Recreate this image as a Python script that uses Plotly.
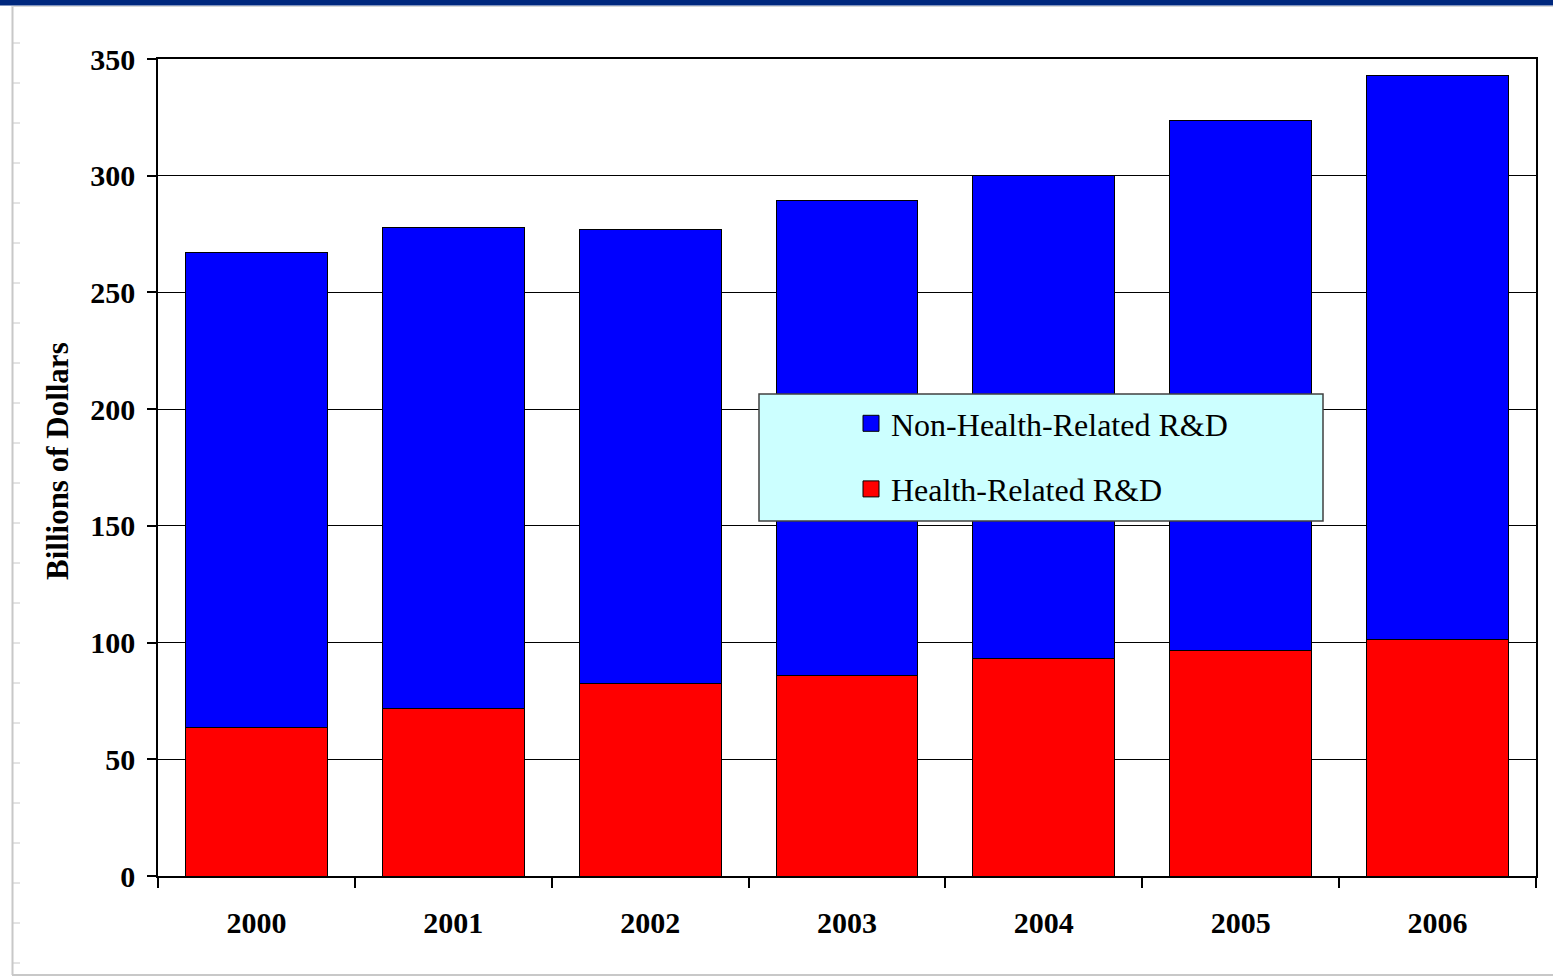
import plotly.graph_objects as go

# R&D spending, billions of dollars
years = ["2000", "2001", "2002", "2003", "2004", "2005", "2006"]
health = [63.8, 71.6, 82.3, 86.1, 93.0, 96.4, 101.5]
non_health = [203.5, 206.4, 194.5, 203.1, 207.3, 227.1, 241.3]

y_ticks = [0, 50, 100, 150, 200, 250, 300, 350]

W, H = 1553, 977
L, R, T, B = 158, 17, 59, 101
PW, PH = W - L - R, H - T - B

def px(x):
    return (x - L) / PW

def py(y):
    return (H - B - y) / PH

serif = "Liberation Serif, Times New Roman, serif"

fig = go.Figure()
fig.add_trace(go.Bar(
    x=years, y=health, name="Health-Related R&D",
    marker=dict(color="#FF0000", line=dict(color="#000000", width=1)),
    showlegend=False,
))
fig.add_trace(go.Bar(
    x=years, y=non_health, name="Non-Health-Related R&D",
    marker=dict(color="#0000FF", line=dict(color="#000000", width=1)),
    showlegend=False,
))

# legend entries (square swatches like the original)
for name, col, grp in [("Non-Health-Related R&D", "#0000FF", "a"),
                       ("Health-Related R&D", "#FF0000", "b")]:
    fig.add_trace(go.Scatter(
        x=[None], y=[None], mode="markers", name=name, legendgroup=grp,
        marker=dict(symbol="square", size=18, color=col,
                    line=dict(color="#000000", width=1)),
    ))

shapes = [
    # legend box
    dict(type="rect", xref="paper", yref="paper",
         x0=px(759), x1=px(1323), y0=py(521), y1=py(394),
         fillcolor="#CCFFFF", line=dict(color="#404040", width=1.5), layer="above"),
    # slide frame
    dict(type="rect", xref="paper", yref="paper",
         x0=px(0), x1=px(W), y0=py(5.5), y1=py(0),
         fillcolor="#00287E", line=dict(width=0)),
    dict(type="line", xref="paper", yref="paper",
         x0=px(12.5), x1=px(12.5), y0=py(6), y1=py(975),
         line=dict(color="#C8C8C8", width=2)),
    dict(type="line", xref="paper", yref="paper",
         x0=px(12), x1=px(W), y0=py(975), y1=py(975),
         line=dict(color="#C8C8C8", width=2)),
    dict(type="line", xref="paper", yref="paper",
         x0=px(12), x1=px(W), y0=py(6.5), y1=py(6.5),
         line=dict(color="#D8D8D8", width=1)),
]
for k in range(24):
    yy = 43 + 40 * k
    shapes.append(dict(type="line", xref="paper", yref="paper",
                       x0=px(13), x1=px(20), y0=py(yy), y1=py(yy),
                       line=dict(color="#C8C8C8", width=1)))

fig.update_layout(
    width=W, height=H,
    margin=dict(l=L, r=R, t=T, b=B),
    paper_bgcolor="white", plot_bgcolor="white",
    barmode="stack", bargap=0.28,
    font=dict(family=serif, color="#000000"),
    shapes=shapes,
    legend=dict(
        x=px(851), y=py(396), xanchor="left", yanchor="top",
        bgcolor="rgba(0,0,0,0)", borderwidth=0,
        font=dict(family=serif, size=32, color="#000000"),
        traceorder="grouped", tracegroupgap=21,
    ),
    annotations=[dict(
        text="<b>Billions of Dollars</b>", textangle=-90,
        xref="paper", yref="paper", x=px(57), y=py(461),
        xanchor="center", yanchor="middle", showarrow=False,
        font=dict(family=serif, size=31, color="#000000"),
    )],
)
fig.update_xaxes(
    showline=True, linecolor="#000000", linewidth=1.5, mirror=True,
    ticks="outside", tickson="boundaries", ticklen=10, tickcolor="#000000",
    tickwidth=1.5, ticklabelstandoff=19,
    tickfont=dict(family=serif, size=30, color="#000000", weight="bold"),
    showgrid=False,
)
fig.update_yaxes(
    range=[0, 350], tickvals=y_ticks,
    showline=True, linecolor="#000000", linewidth=1.5, mirror=True,
    ticks="outside", ticklen=9, tickcolor="#000000", tickwidth=1.5,
    ticklabelstandoff=6,
    showgrid=True, gridcolor="#000000", gridwidth=1.2,
    zeroline=False,
    tickfont=dict(family=serif, size=30, color="#000000", weight="bold"),
)

fig.write_html("out.html", config={"displayModeBar": False},
               post_script="document.body.style.margin='0';")
